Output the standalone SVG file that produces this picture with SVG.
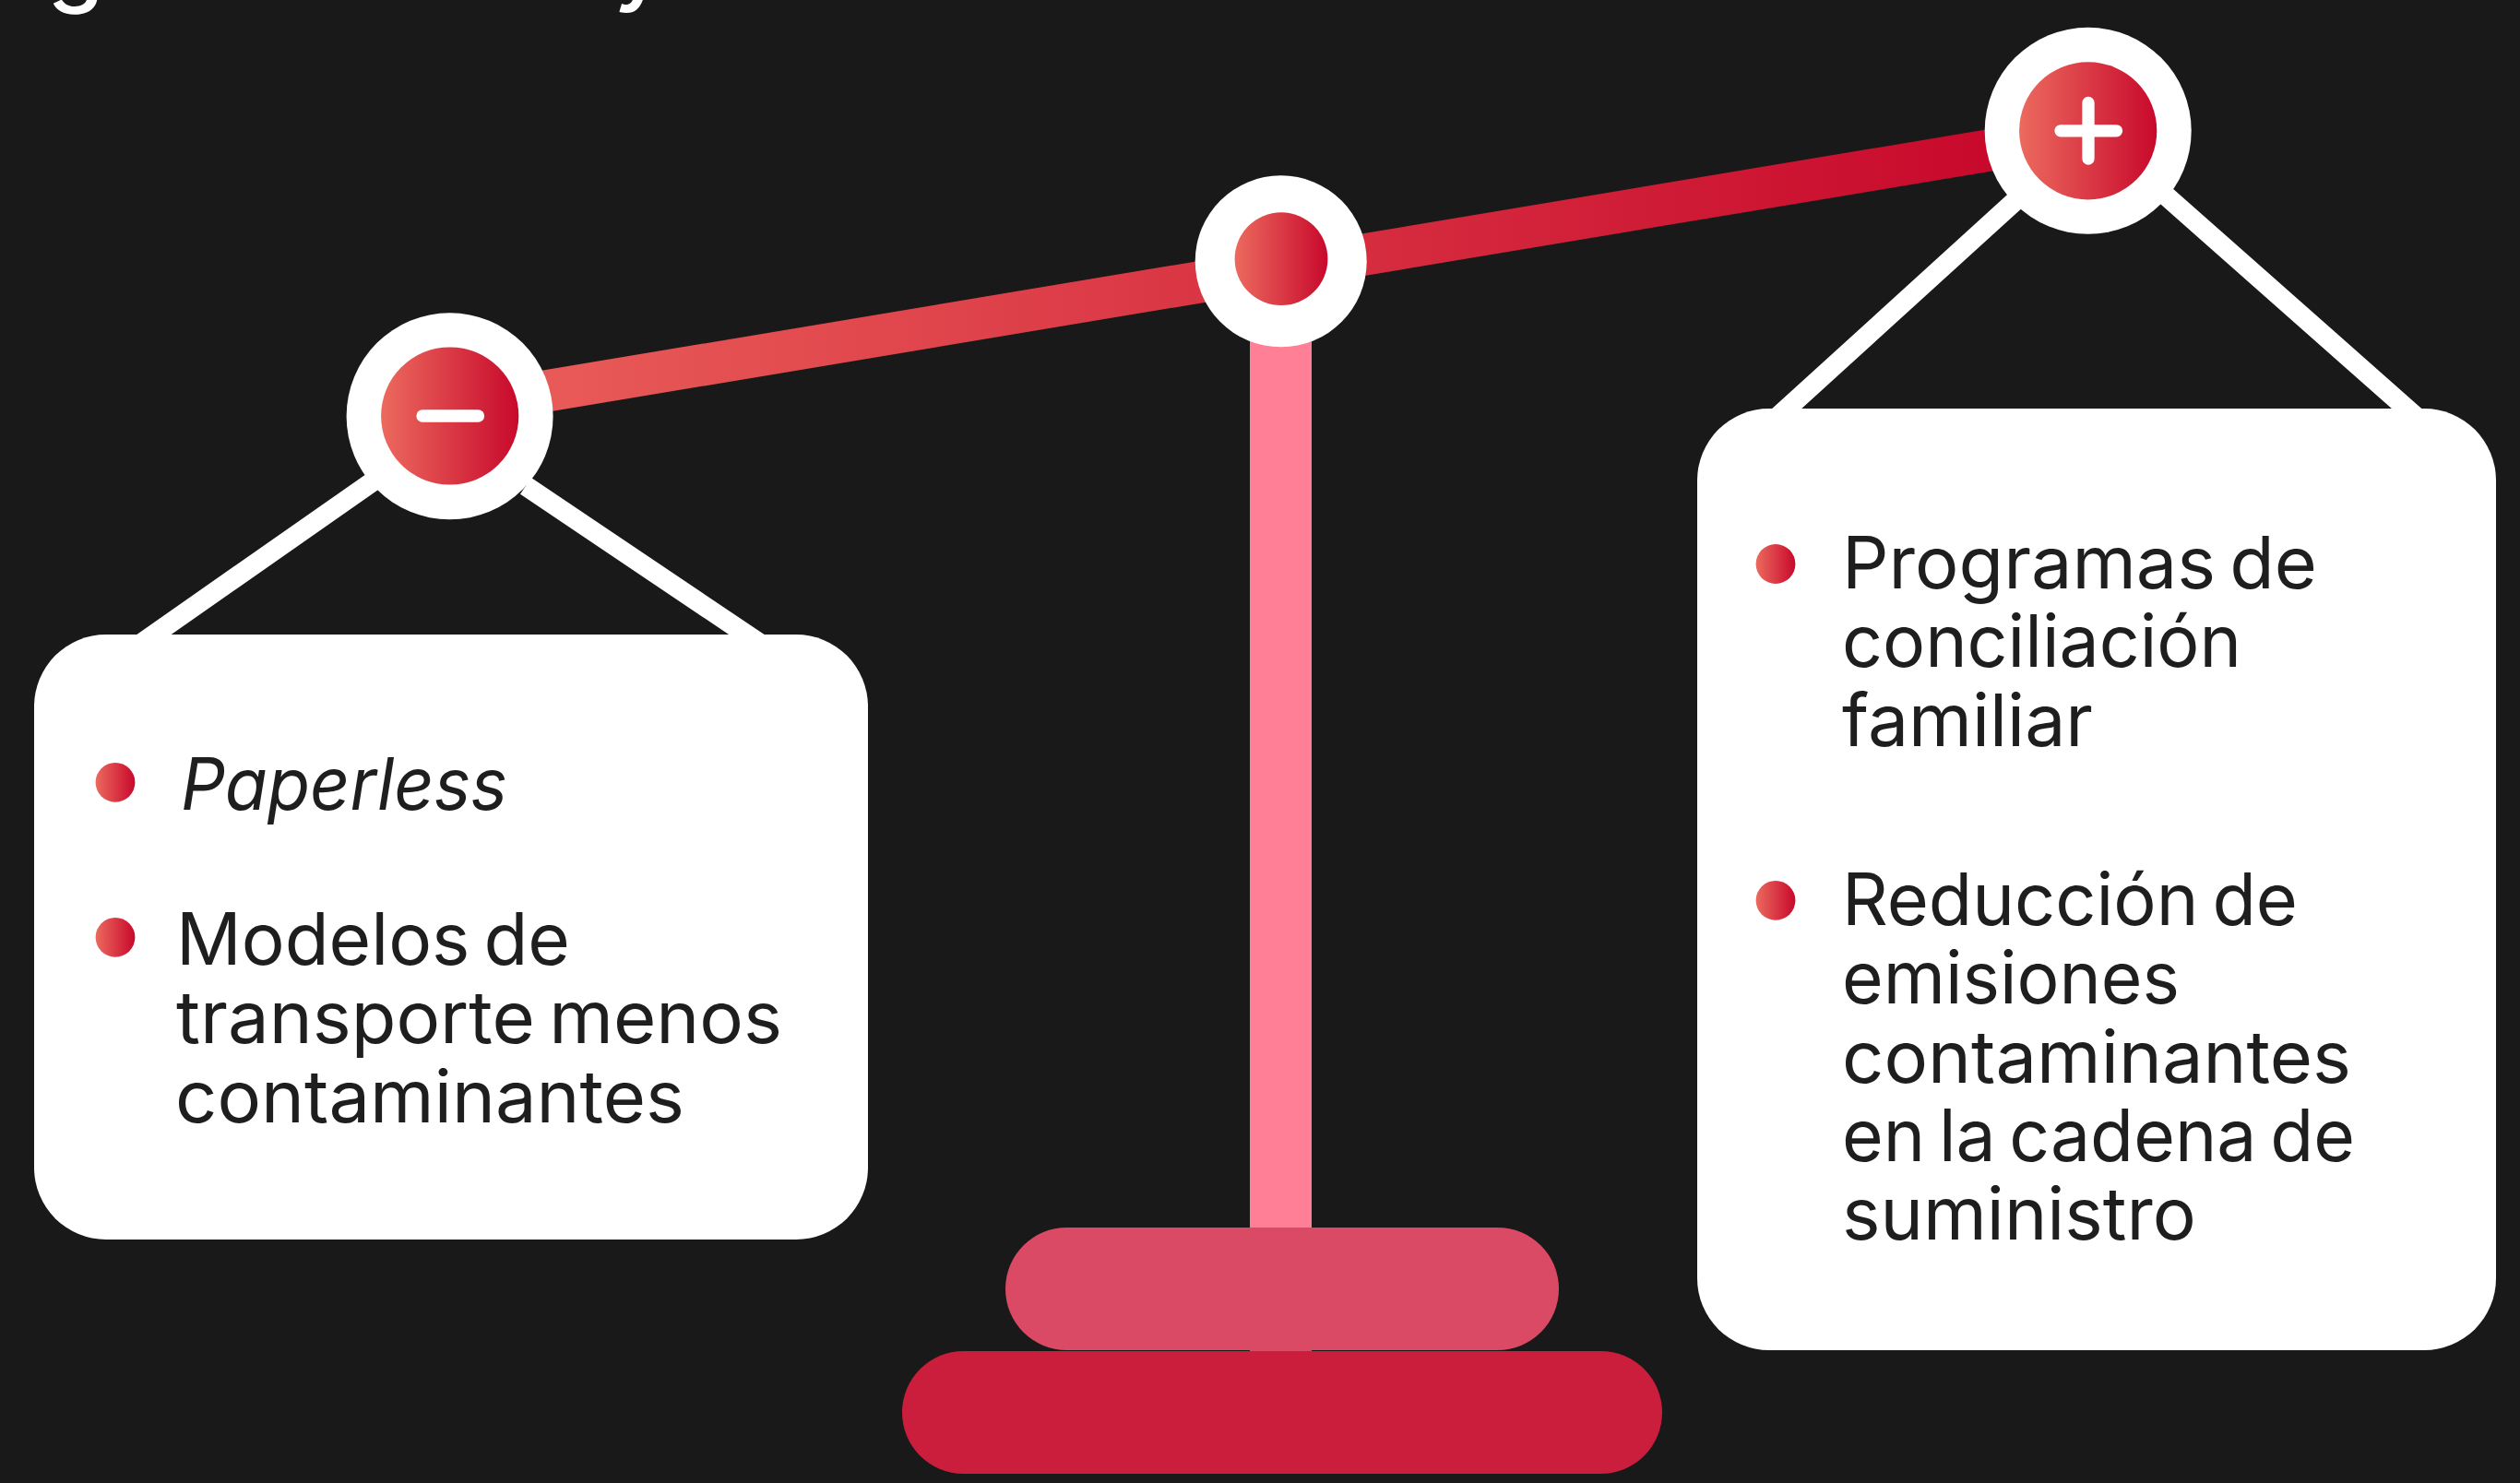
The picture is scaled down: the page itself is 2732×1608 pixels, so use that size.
<svg xmlns="http://www.w3.org/2000/svg" width="2732" height="1608" viewBox="0 0 2732 1608">
<style>
.b{font-family:"Inter","Noto Sans",sans-serif;font-size:78px;word-spacing:-7px;fill:#1e1e1e}
.t{font-family:"Inter","Noto Sans",sans-serif;font-size:100px;font-weight:500;fill:#fff}
.w{fill:#fff}
.s{stroke:#fff;stroke-width:21.5;fill:none}
.i{stroke:#fff;stroke-width:13.3;stroke-linecap:round;fill:none}
</style>
<defs>
<linearGradient id="g" x1="0" y1="0" x2="1" y2="0"><stop offset="0" stop-color="#ec6a5e"/><stop offset="1" stop-color="#c8092c"/></linearGradient>
<linearGradient id="bg" gradientUnits="userSpaceOnUse" x1="500" y1="0" x2="2160" y2="0"><stop offset="0" stop-color="#ea5f5a"/><stop offset="1" stop-color="#c8092c"/></linearGradient>
</defs>
<rect width="2732" height="1608" fill="#191919"/>
<text class="t" x="51" y="-6">g</text><text class="t" x="665" y="-7">y</text>
<g id="connectors">
<path d="M488 441.4L2264 145" stroke="url(#bg)" stroke-width="45.4" fill="none"/>
<path class="s" d="M410 518L137 709M570 526.8L842 710"/>
<path class="s" d="M2190 213L1913 465M2340 205L2634 465"/>
</g>
<g id="stand">
<rect x="1355" y="300" width="67" height="1040" fill="#ff7f96"/>
<rect x="1355" y="1460" width="67" height="6" fill="#da4a64"/>
<rect x="1090" y="1331" width="600" height="133" rx="66.5" fill="#da4a64"/>
<rect x="978" y="1465" width="824" height="133" rx="66.5" fill="#cb1d3c"/>
</g>
<g id="left-joint"><circle class="w" cx="487.6" cy="451.3" r="112"/><circle cx="487.7" cy="451" r="74.6" fill="url(#g)"/><path class="i" d="M458 451H518.5"/></g>
<g id="center-joint"><circle class="w" cx="1388.7" cy="283.3" r="93"/><circle cx="1389" cy="280.7" r="50.4" fill="url(#g)"/></g>
<g id="right-joint"><circle class="w" cx="2263.7" cy="141.8" r="112"/><circle cx="2263.7" cy="141.8" r="74.6" fill="url(#g)"/><path class="i" d="M2234 141.8H2294.5M2264 111.5V172"/></g>
<g id="left-card">
<rect class="w" x="37" y="688" width="904" height="656" rx="78"/>
<circle cx="125" cy="848.3" r="21.4" fill="url(#g)"/><circle cx="125" cy="1016.3" r="21.4" fill="url(#g)"/>
<text class="b" x="196" y="878" font-style="italic" textLength="354" lengthAdjust="spacingAndGlyphs">Paperless</text>
<text class="b" x="191" y="1046" textLength="427" lengthAdjust="spacingAndGlyphs">Modelos de</text>
<text class="b" x="191" y="1131.3" textLength="657" lengthAdjust="spacingAndGlyphs">transporte menos</text>
<text class="b" x="190" y="1216.6" textLength="552" lengthAdjust="spacingAndGlyphs">contaminantes</text>
</g>
<g id="right-card">
<rect class="w" x="1840" y="443" width="866" height="1021" rx="78"/>
<circle cx="1925" cy="611.5" r="21.4" fill="url(#g)"/><circle cx="1925" cy="976.3" r="21.4" fill="url(#g)"/>
<text class="b" x="1997" y="638" textLength="515" lengthAdjust="spacingAndGlyphs">Programas de</text>
<text class="b" x="1997" y="723.3" textLength="433" lengthAdjust="spacingAndGlyphs">conciliación</text>
<text class="b" x="1997" y="808.6" textLength="272" lengthAdjust="spacingAndGlyphs">familiar</text>
<text class="b" x="1997" y="1003" textLength="494" lengthAdjust="spacingAndGlyphs">Reducción de</text>
<text class="b" x="1997" y="1088.3" textLength="366" lengthAdjust="spacingAndGlyphs">emisiones</text>
<text class="b" x="1997" y="1173.6" textLength="552" lengthAdjust="spacingAndGlyphs">contaminantes</text>
<text class="b" x="1997" y="1258.9" textLength="556" lengthAdjust="spacingAndGlyphs">en la cadena de</text>
<text class="b" x="1997" y="1344.2" textLength="384" lengthAdjust="spacingAndGlyphs">suministro</text>
</g>
</svg>
